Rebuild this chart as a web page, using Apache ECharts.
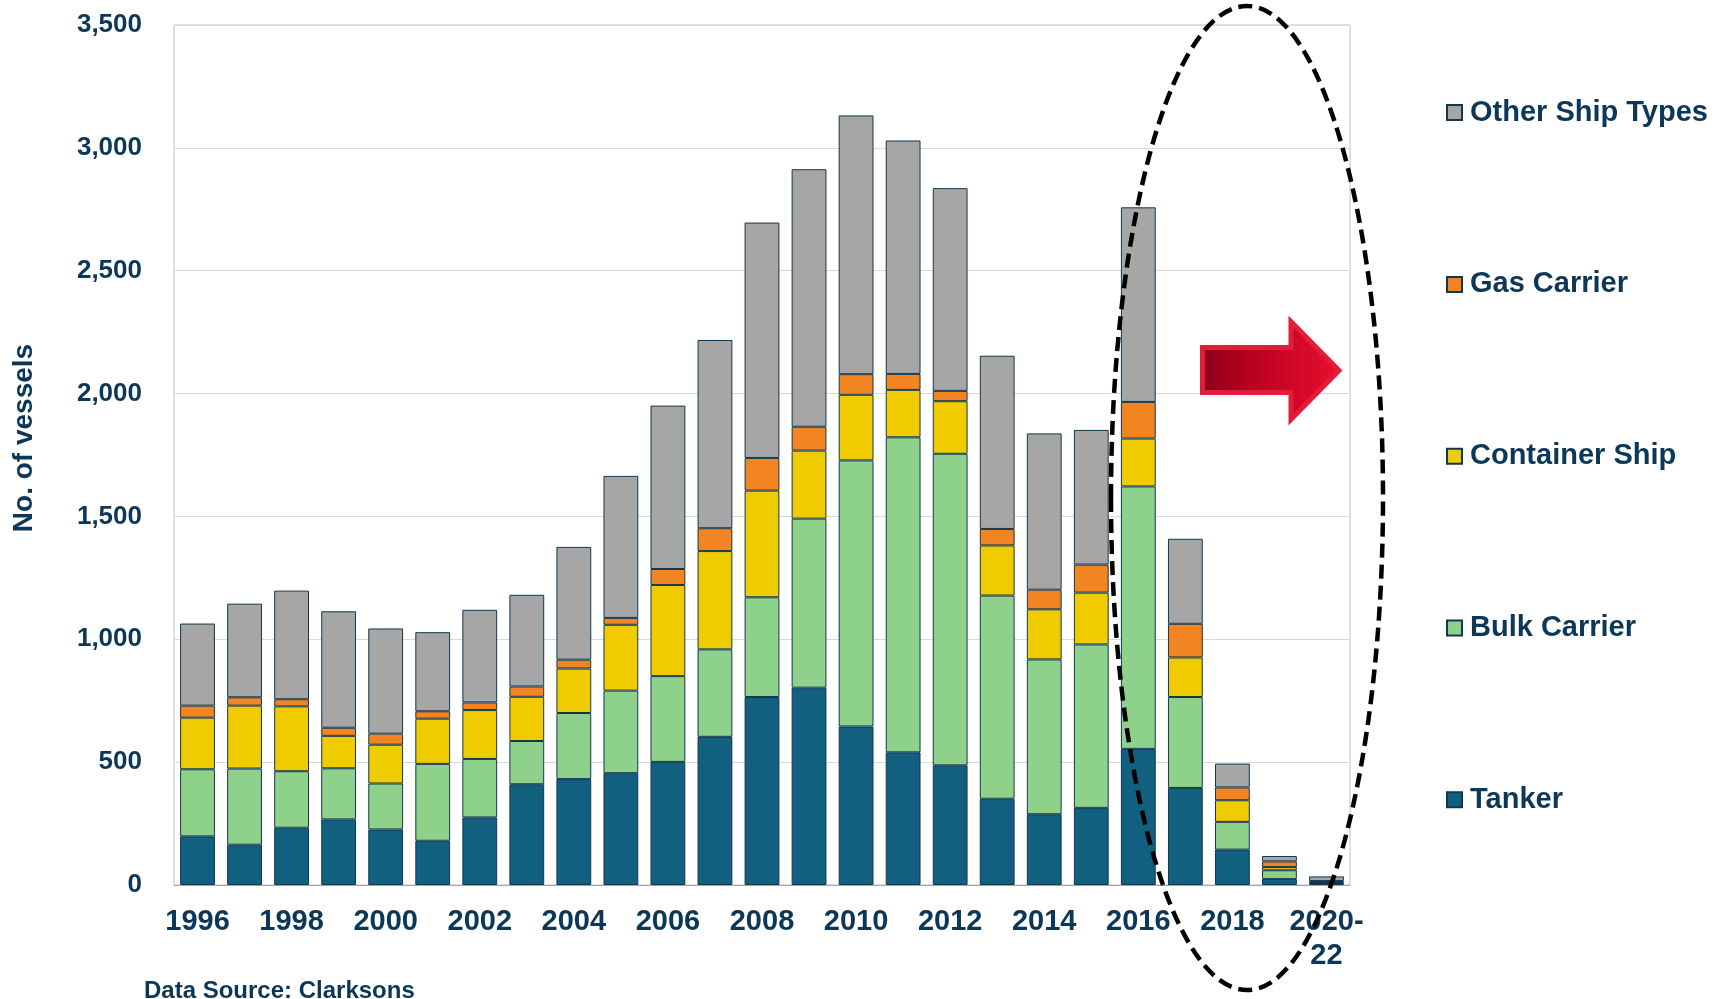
<!DOCTYPE html>
<html>
<head>
<meta charset="utf-8">
<script src="https://cdn.jsdelivr.net/npm/echarts@6/dist/echarts.min.js"></script>
<style>
  html, body { margin: 0; padding: 0; background: #ffffff; }
  #chart { width: 1727px; height: 999px; }
</style>
</head>
<body>
<div id="chart"></div>
<script>
const categories = ['1996','1997','1998','1999','2000','2001','2002','2003','2004','2005','2006','2007',
  '2008','2009','2010','2011','2012','2013','2014','2015','2016','2017','2018','2019','2020-\n22'];
const tanker    = [198,164,233,267,226,180,275,410,431,455,501,603,765,803,645,540,487,351,288,314,554,395,144,24,5];
const bulk      = [273,310,230,208,187,313,238,176,269,336,349,356,406,688,1083,1282,1268,827,630,665,1068,370,113,36,3];
const container = [210,256,264,132,158,184,199,180,181,268,371,400,434,277,267,193,214,204,204,211,195,161,88,13,3];
const gas       = [49,34,29,33,45,30,31,42,36,28,65,93,133,97,84,65,42,67,80,114,149,137,52,23,5];
const other     = [334,381,442,474,428,322,377,373,459,578,665,766,958,1048,1053,950,825,705,636,548,792,346,97,22,19];
const yTicks = [0, 500, 1000, 1500, 2000, 2500, 3000, 3500];

const FONT = '"Liberation Sans", Arial, sans-serif';
const NAVY = '#0c3756';
const BORDER = '#12374f';

const seriesDefs = [
  { name: 'Tanker', data: tanker, color: '#11607f' },
  { name: 'Bulk Carrier', data: bulk, color: '#8dd18a' },
  { name: 'Container Ship', data: container, color: '#f0cb00' },
  { name: 'Gas Carrier', data: gas, color: '#f28421' },
  { name: 'Other Ship Types', data: other, color: '#a6a6a6' }
];

const legendOrder = ['Other Ship Types', 'Gas Carrier', 'Container Ship', 'Bulk Carrier', 'Tanker'];
const legendCenters = [112.6, 284.4, 456.2, 628, 799.8];

const chart = echarts.init(document.getElementById('chart'));
chart.setOption({
  animation: false,
  backgroundColor: '#ffffff',
  grid: { left: 174, right: 377, top: 25, bottom: 114, show: true, borderColor: '#c0c0c0', borderWidth: 1, containLabel: false },
  legend: legendOrder.map((n, i) => ({
    data: [n],
    orient: 'vertical',
    left: 1446,
    top: legendCenters[i] - 15,
    padding: 0,
    icon: 'rect',
    itemWidth: 15,
    itemHeight: 15,
    selectedMode: false,
    textStyle: { color: NAVY, fontFamily: FONT, fontWeight: 'bold', fontSize: 29, lineHeight: 30, padding: [0, 0, 0, 3] }
  })),
  xAxis: {
    type: 'category',
    data: categories,
    axisLine: { show: true, lineStyle: { color: '#a6a6a6', width: 1 } },
    axisTick: { show: false },
    axisLabel: { interval: 1, color: NAVY, fontFamily: FONT, fontWeight: 'bold', fontSize: 29, lineHeight: 34, margin: 20 }
  },
  yAxis: {
    type: 'value',
    min: yTicks[0],
    max: yTicks[yTicks.length - 1],
    interval: 500,
    axisLine: { show: false },
    axisTick: { show: false },
    splitLine: { lineStyle: { color: '#d9d9d9', width: 1 } },
    axisLabel: {
      color: NAVY, fontFamily: FONT, fontWeight: 'bold', fontSize: 26, margin: 32,
      padding: [4, 0, 0, 0],
      formatter: v => v.toLocaleString('en-US')
    }
  },
  series: seriesDefs.map(s => ({
    name: s.name,
    type: 'bar',
    stack: 'total',
    data: s.data,
    barCategoryGap: '26%',
    itemStyle: { color: s.color, borderColor: BORDER, borderWidth: 1 }
  })),
  graphic: [
    {
      type: 'text', x: 24, y: 438, rotation: Math.PI / 2, z: 50,
      style: { text: 'No. of vessels', fill: NAVY, font: 'bold 28px ' + FONT, align: 'center', verticalAlign: 'middle' }
    },
    {
      type: 'text', x: 144, y: 979, z: 50,
      style: { text: 'Data Source: Clarksons', fill: NAVY, font: 'bold 24px ' + FONT, align: 'left', verticalAlign: 'top' }
    },
    {
      type: 'polygon', z: 90,
      shape: { points: [[1202.5,347.5],[1291,347.5],[1291,321.5],[1339,370.5],[1291,419.5],[1291,392.5],[1202.5,392.5]] },
      style: {
        fill: new echarts.graphic.LinearGradient(0, 0, 1, 0, [
          { offset: 0, color: '#8a0019' },
          { offset: 0.35, color: '#b8001f' },
          { offset: 1, color: '#ea0f2e' }
        ]),
        stroke: '#e41c3b', lineWidth: 5, lineJoin: 'miter'
      }
    },
    {
      type: 'ellipse', z: 100,
      shape: { cx: 1247, cy: 498, rx: 136, ry: 492 },
      style: { fill: 'none', stroke: '#000000', lineWidth: 4.5, lineDash: [14, 7] }
    }
  ]
});
</script>
</body>
</html>
